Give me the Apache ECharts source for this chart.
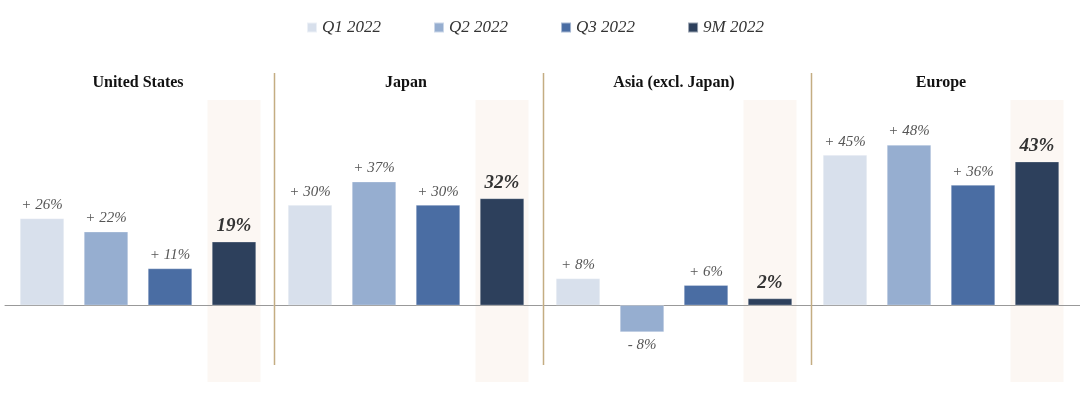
<!DOCTYPE html>
<html><head><meta charset="utf-8">
<script src="https://cdn.jsdelivr.net/npm/echarts@6/dist/echarts.min.js"></script>
<style>html,body{margin:0;padding:0;background:#fff}#c{width:1080px;height:395px}</style>
</head><body><div id="c"></div>
<script>
const categories = ['Q1 2022', 'Q2 2022', 'Q3 2022', '9M 2022'];
const regions = ['United States', 'Japan', 'Asia (excl. Japan)', 'Europe'];
const q1Values = [26, 30, 8, 45];
const q2Values = [22, 37, -8, 48];
const q3Values = [11, 30, 6, 36];
const m9Values = [19, 32, 2, 43];

const seriesValues = [q1Values, q2Values, q3Values, m9Values];
const colors = ['#d8e0ec', '#96aed0', '#4a6da3', '#2d405c'];
const FONT = 'Liberation Serif';
const yMin = -23, yMax = 61.5;
const gridLefts = [10, 278, 546, 813];
const gridW = 256, gridTop = 100, gridH = 282;

const chart = echarts.init(document.getElementById('c'), null, {renderer: 'canvas'});

const grids = [], xAxes = [], yAxes = [], series = [];
regions.forEach((r, gi) => {
  grids.push({left: gridLefts[gi], top: gridTop, width: gridW, height: gridH});
  xAxes.push({type: 'category', gridIndex: gi, data: categories, show: false});
  yAxes.push({type: 'value', gridIndex: gi, min: yMin, max: yMax, show: false});
  categories.forEach((cat, si) => {
    const isTotal = si === 3;
    const data = categories.map((c, ci) => {
      if (ci !== si) return null;
      const v = seriesValues[si][gi];
      return {value: v, label: {position: v < 0 ? 'bottom' : 'top'}};
    });
    series.push({
      type: 'bar', name: cat, xAxisIndex: gi, yAxisIndex: gi, stack: 'g' + gi,
      barWidth: 44, z: 3,
      itemStyle: {color: colors[si], borderColor: 'rgba(255,255,255,0.5)', borderWidth: 0.5},
      data: data,
      label: {
        show: true,
        distance: isTotal ? 6 : 6,
        fontFamily: FONT, fontStyle: 'italic',
        fontSize: isTotal ? 19 : 15,
        fontWeight: isTotal ? 'bold' : 'normal',
        color: isTotal ? '#333' : '#555',
        formatter: p => {
          const v = p.value;
          if (v == null) return '';
          if (isTotal) return v + '%';
          return (v < 0 ? '- ' : '+ ') + Math.abs(v) + '%';
        }
      }
    });
  });
});
// baseline grid spanning full width
grids.push({left: 5, right: 0, top: gridTop, height: gridH});
xAxes.push({type: 'value', gridIndex: 4, min: 0, max: 1, axisLabel: {show: false}, axisTick: {show: false},
  splitLine: {show: false}, axisLine: {show: true, onZero: true, lineStyle: {color: '#999', width: 1}}});
yAxes.push({type: 'value', gridIndex: 4, min: yMin, max: yMax, show: false});

chart.setOption({
  animation: false,
  backgroundColor: '#fff',
  legend: {
    top: 14, left: 301, data: categories, icon: 'rect', itemWidth: 10, itemHeight: 10,
    itemGap: 52,
    textStyle: {fontFamily: FONT, fontStyle: 'italic', fontSize: 17, color: '#333'}
  },
  color: colors,
  grid: grids, xAxis: xAxes, yAxis: yAxes, series: series
});

const g = [];
regions.forEach((r, gi) => {
  const top = chart.convertToPixel({gridIndex: gi}, ['9M 2022', yMax]);
  const bot = chart.convertToPixel({gridIndex: gi}, ['9M 2022', yMin]);
  g.push({type: 'rect', z: 0, shape: {x: top[0] - 26.5, y: top[1], width: 53, height: bot[1] - top[1]},
    style: {fill: '#fcf7f3'}});
  g.push({type: 'text', z: 5, x: gridLefts[gi] + gridW / 2, y: 83,
    style: {text: r, textAlign: 'center', textVerticalAlign: 'middle',
      font: 'bold 16px "Liberation Serif"', fill: '#111'}});
  if (gi < 3) {
    const sx = Math.round(top[0] + 22 + 18 + gi * 0.7) + 0.5;
    g.push({type: 'line', z: 5, shape: {x1: sx, y1: 73, x2: sx, y2: 365},
      style: {stroke: '#c4ad82', lineWidth: 1.5}});
  }
});
chart.setOption({graphic: g});
</script></body></html>
